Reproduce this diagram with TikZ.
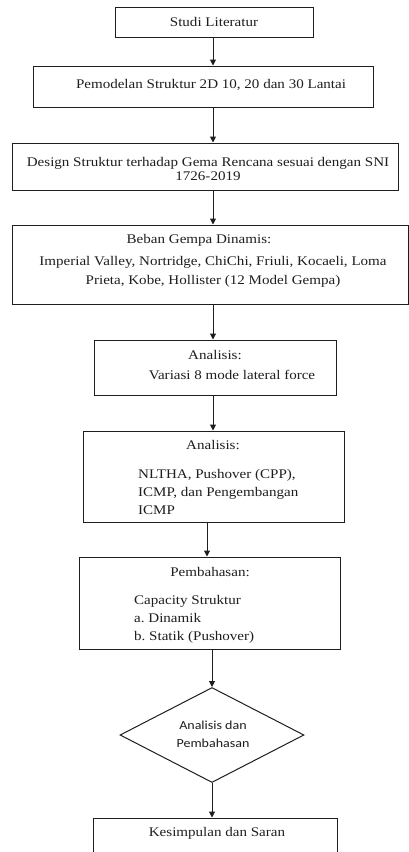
\documentclass[tikz,border=0pt]{standalone}
\usepackage{fontspec}
\setmainfont[FakeStretch=1.14]{Liberation Serif}
\newfontfamily\calfont[FakeStretch=1.14]{Carlito}
\usetikzlibrary{shapes.geometric,arrows.meta}
\definecolor{ink}{RGB}{30,30,30}
\tikzset{
  box/.style={draw=ink, line width=1pt, inner sep=0pt, fill=white},
  dia/.style={draw=ink, line width=1pt, diamond, inner sep=0pt, aspect=1},
  txt/.style={text=ink, inner sep=0pt, font=\fontsize{13.2}{14.5}\selectfont},
  arr/.style={draw=ink, line width=1pt, -{Triangle[width=6pt,length=6pt]}},
}
\frenchspacing
\begin{document}
\frenchspacing
\begin{tikzpicture}[x=1pt,y=-1pt]
\clip (0,0) rectangle (409,852);
\fill[white] (0,0) rectangle (409,852);
% boxes
\node[box, minimum width=198pt, minimum height=30pt] (b1) at (214,22) {};
\node[box, minimum width=340pt, minimum height=41pt] (b2) at (203,86.5) {};
\node[box, minimum width=386pt, minimum height=47pt] (b3) at (205,166.5) {};
\node[box, minimum width=396pt, minimum height=79pt] (b4) at (210,264.5) {};
\node[box, minimum width=242pt, minimum height=55pt] (b5) at (215,367.5) {};
\node[box, minimum width=261pt, minimum height=91pt] (b6) at (213.5,476.5) {};
\node[box, minimum width=261pt, minimum height=92pt] (b7) at (209.5,603) {};
\node[dia, minimum width=184pt, minimum height=95pt] (d1) at (212,735) {};
\node[box, minimum width=244pt, minimum height=60pt] (b8) at (215,848) {};
% texts
\node[txt] (t1) at (214,22) {Studi Literatur};
\node[txt] (t2) at (211,85) {Pemodelan Struktur 2D 10, 20 dan 30 Lantai};
\node[txt, align=center] (t3) at (208,169) {Design Struktur terhadap Gema Rencana sesuai dengan SNI\\1726-2019};
\node[txt] (t4a) at (199,240) {Beban Gempa Dinamis:};
\node[txt, align=center, font=\fontsize{13.2}{19}\selectfont] (t4b) at (213,271.5) {Imperial Valley, Nortridge, ChiChi, Friuli, Kocaeli, Loma\\Prieta, Kobe, Hollister (12 Model Gempa)};
\node[txt] (t5a) at (215,355) {Analisis:};
\node[txt] (t5b) at (232,375) {Variasi 8 mode lateral force};
\node[txt] (t6a) at (213,445) {Analisis:};
\node[txt, align=left, anchor=west, font=\fontsize{13.2}{18}\selectfont] (t6b) at (138,491.5) {NLTHA, Pushover (CPP),\\ICMP, dan Pengembangan\\ICMP};
\node[txt] (t7a) at (210,572) {Pembahasan:};
\node[txt, align=left, anchor=west, font=\fontsize{13.2}{18.3}\selectfont] (t7b) at (134,619.5) {Capacity Struktur\\a. Dinamik\\b. Statik (Pushover)};
\node[txt, align=center, font=\calfont\fontsize{12.3}{18}\selectfont] (td) at (213,734) {Analisis dan\\Pembahasan};
\node[txt] (t8) at (217,833) {Kesimpulan dan Saran};
% arrow columns
\coordinate (xa) at (213,0);
\coordinate (xb) at (207,0);
\coordinate (xc) at (212,0);
\draw[arr] (xa |- b1.south) -- (xa |- b2.north);
\draw[arr] (xa |- b2.south) -- (xa |- b3.north);
\draw[arr] (xa |- b3.south) -- (xa |- b4.north);
\draw[arr] (xa |- b4.south) -- (xa |- b5.north);
\draw[arr] (xa |- b5.south) -- (xa |- b6.north);
\draw[arr] (xb |- b6.south) -- (xb |- b7.north);
\draw[arr] (xc |- b7.south) -- (d1.north);
\draw[arr] (d1.south) -- (xc |- b8.north);
\end{tikzpicture}
\end{document}
